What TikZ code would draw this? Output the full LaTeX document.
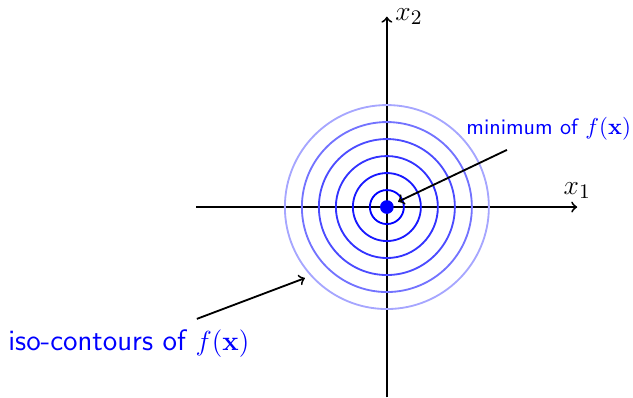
\documentclass[tikz,border=0pt]{standalone}
\usepackage{amsmath, amssymb}
\usepackage{tikz}
\usetikzlibrary{positioning}
\usepackage{xcolor}

\begin{document}
\begin{tikzpicture}[
	x=0.52cm, y=0.52cm,
	axis/.style={->, thick},
	contour/.style={thick},
	note/.style={text=blue, font=\sffamily},
	pointer/.style={->, thick}
]
	\useasboundingbox (-11.38,-5.59) rectangle (7.24,6.09);

	\draw[axis] (-5.6,0) -- (5.6,0) node[above] (xone) {\fontsize{13}{15}\selectfont $x_1$};
	\draw[axis] (0,-5.6) -- (0,5.6) node[right] (xtwo) {\fontsize{13}{15}\selectfont $x_2$};

	\foreach \r/\c in {0.5/100, 1/90, 1.5/80, 2/70, 2.5/55, 3/35}
		\draw[contour, blue!\c] (0,0) circle (\r);

	\node[circle, fill=blue, inner sep=0pt, minimum size=0.21cm] (minpt) at (0,0) {};

	\node[note, font=\sffamily\fontsize{9.65}{11}\selectfont] (minlabel) at (4.76,2.29) {minimum of $f(\mathbf{x})$};
	\coordinate (minstart) at (3.53,1.68);
	\draw[pointer, shorten >=2.2pt] (minstart) -- (minpt);

	\node[note, font=\sffamily\fontsize{12.85}{15}\selectfont] (isolabel) at (-7.59,-4.03) {iso-contours of $f(\mathbf{x})$};
	\coordinate (isostart) at (-5.59,-3.29);
	\coordinate (isoend) at (-2.41,-2.09);
	\draw[pointer] (isostart) -- (isoend);
\end{tikzpicture}
\end{document}
